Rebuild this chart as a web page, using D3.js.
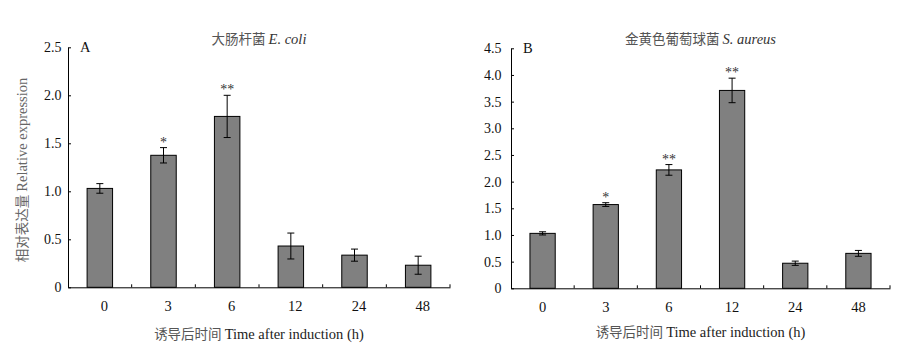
<!DOCTYPE html>
<html>
<head>
<meta charset="utf-8">
<script src="https://cdn.jsdelivr.net/npm/d3@7"></script>
<style>
  html, body { margin: 0; padding: 0; background: #fff; }
  svg { display: block; }
  text { font-family: "Liberation Serif", "Noto Sans CJK SC", serif; }
</style>
</head>
<body>
<svg id="chart" width="902" height="358"></svg>
<script>
// ---- data ----
const categories = ["0", "3", "6", "12", "24", "48"];

const ecoliValues = [1.03, 1.375, 1.78, 0.43, 0.335, 0.23];
const ecoliErrors = [0.05, 0.08, 0.22, 0.135, 0.063, 0.094];
const ecoliMarks  = ["", "*", "**", "", "", ""];

const aureusValues = [1.03, 1.57, 2.22, 3.71, 0.47, 0.655];
const aureusErrors = [0.03, 0.035, 0.10, 0.23, 0.04, 0.055];
const aureusMarks  = ["", "*", "**", "**", "", ""];

const ecoliTicks  = [0, 0.5, 1.0, 1.5, 2.0, 2.5];
const aureusTicks = [0, 0.5, 1.0, 1.5, 2.0, 2.5, 3.0, 3.5, 4.0, 4.5];

const ecoliTitleCn = "大肠杆菌", ecoliTitleLatin = "E. coli";
const aureusTitleCn = "金黄色葡萄球菌", aureusTitleLatin = "S. aureus";
const xLabelCn = "诱导后时间", xLabelEn = "Time after induction (h)";
const yLabelCn = "相对表达量", yLabelEn = "Relative expression";

const svg = d3.select("#chart");

function tickFmt(d) { return d === 0 ? "0" : d3.format(".1f")(d); }

function panel(opt) {
  const g = svg.append("g");
  const x = d3.scaleBand().domain(categories).range([opt.x0, opt.x1])
    .paddingInner(0.6).paddingOuter(0.3);
  const y = d3.scaleLinear().domain([0, opt.yMax]).range([opt.y0, opt.y1]);

  // bars
  g.selectAll("rect.bar").data(opt.values).enter().append("rect")
    .attr("x", (d, i) => x(categories[i]))
    .attr("y", d => y(d))
    .attr("width", x.bandwidth())
    .attr("height", d => y(0) - y(d))
    .attr("fill", "#808080")
    .attr("stroke", "#000")
    .attr("stroke-width", 1);

  // error bars
  const cap = 3.5;
  const eg = g.append("g").attr("stroke", "#000").attr("stroke-width", 1);
  opt.values.forEach((v, i) => {
    const cx = x(categories[i]) + x.bandwidth() / 2;
    const top = y(v + opt.errors[i]), bot = y(v - opt.errors[i]);
    eg.append("line").attr("x1", cx).attr("x2", cx).attr("y1", top).attr("y2", bot);
    eg.append("line").attr("x1", cx - cap).attr("x2", cx + cap).attr("y1", top).attr("y2", top);
    eg.append("line").attr("x1", cx - cap).attr("x2", cx + cap).attr("y1", bot).attr("y2", bot);
    if (opt.marks[i]) {
      g.append("text").attr("x", cx).attr("y", top - 1)
        .attr("text-anchor", "middle").attr("font-size", 14).attr("fill", "#333")
        .text(opt.marks[i]);
    }
  });

  // y axis
  const ya = g.append("g").attr("transform", `translate(${opt.x0},0)`)
    .call(d3.axisLeft(y).tickValues(opt.ticks).tickFormat(tickFmt)
      .tickSizeInner(-3).tickSizeOuter(0).tickPadding(opt.yPad));
  ya.selectAll("text").attr("font-size", 14).attr("fill", "#111")
    .style("font-family", "'Liberation Serif', serif");
  ya.selectAll("line,path").attr("stroke", "#000");

  // x axis (labels at band centres, ticks at band boundaries)
  const xa = g.append("g").attr("transform", `translate(0,${opt.y0})`)
    .call(d3.axisBottom(x).tickSize(0).tickPadding(13.5));
  xa.selectAll("text").attr("font-size", 14.5).attr("fill", "#111")
    .attr("dx", opt.xdx).style("font-family", "'Liberation Serif', serif");
  xa.select("path").attr("stroke", "#000");
  const bounds = d3.range(1, categories.length + 1).map(i => opt.x0 + i * x.step());
  g.selectAll("line.xt").data(bounds).enter().append("line")
    .attr("x1", d => d).attr("x2", d => d)
    .attr("y1", opt.y0).attr("y2", opt.y0 - 3).attr("stroke", "#000");

  // panel letter
  g.append("text").attr("x", opt.x0 + 12).attr("y", opt.y1 + 5)
    .attr("font-size", 14.5).attr("fill", "#111").text(opt.letter);

  // title
  const cx = (opt.x0 + opt.x1) / 2;
  const t = g.append("text").attr("x", cx).attr("y", 43.5).attr("text-anchor", "middle")
    .attr("font-size", 14.5).attr("fill", "#333");
  t.append("tspan").style("font-family", "'Noto Sans CJK SC', sans-serif").attr("fill", "#555")
    .attr("font-size", 13.5).text(opt.titleCn + " ");
  t.append("tspan").attr("font-style", "italic").text(opt.titleLatin);

  // x label
  const xl = g.append("text").attr("x", cx).attr("y", opt.xLabelY).attr("text-anchor", "middle")
    .attr("font-size", 14.5).attr("fill", "#222");
  xl.append("tspan").style("font-family", "'Noto Sans CJK SC', sans-serif").attr("fill", "#555")
    .attr("font-size", 13.5).text(xLabelCn + " ");
  xl.append("tspan").text(xLabelEn);

  return { x, y };
}

panel({ x0: 68, x1: 450, y0: 287.3, y1: 47.3, yMax: 2.5, ticks: ecoliTicks,
  values: ecoliValues, errors: ecoliErrors, marks: ecoliMarks,
  yPad: 6.5, xdx: 4.5, letter: "A", titleCn: ecoliTitleCn, titleLatin: ecoliTitleLatin,
  xLabelY: 338.5 });

panel({ x0: 511, x1: 890, y0: 288.3, y1: 48.3, yMax: 4.5, ticks: aureusTicks,
  values: aureusValues, errors: aureusErrors, marks: aureusMarks,
  yPad: 9.5, xdx: 0, letter: "B", titleCn: aureusTitleCn, titleLatin: aureusTitleLatin,
  xLabelY: 337 });

// y label (panel A only)
const yl = svg.append("text").attr("transform", "translate(27,170) rotate(-90)")
  .attr("text-anchor", "middle").attr("font-size", 14.5).attr("fill", "#666");
yl.append("tspan").style("font-family", "'Noto Sans CJK SC', sans-serif")
  .attr("font-size", 13.5).text(yLabelCn + " ");
yl.append("tspan").text(yLabelEn);
</script>
</body>
</html>
